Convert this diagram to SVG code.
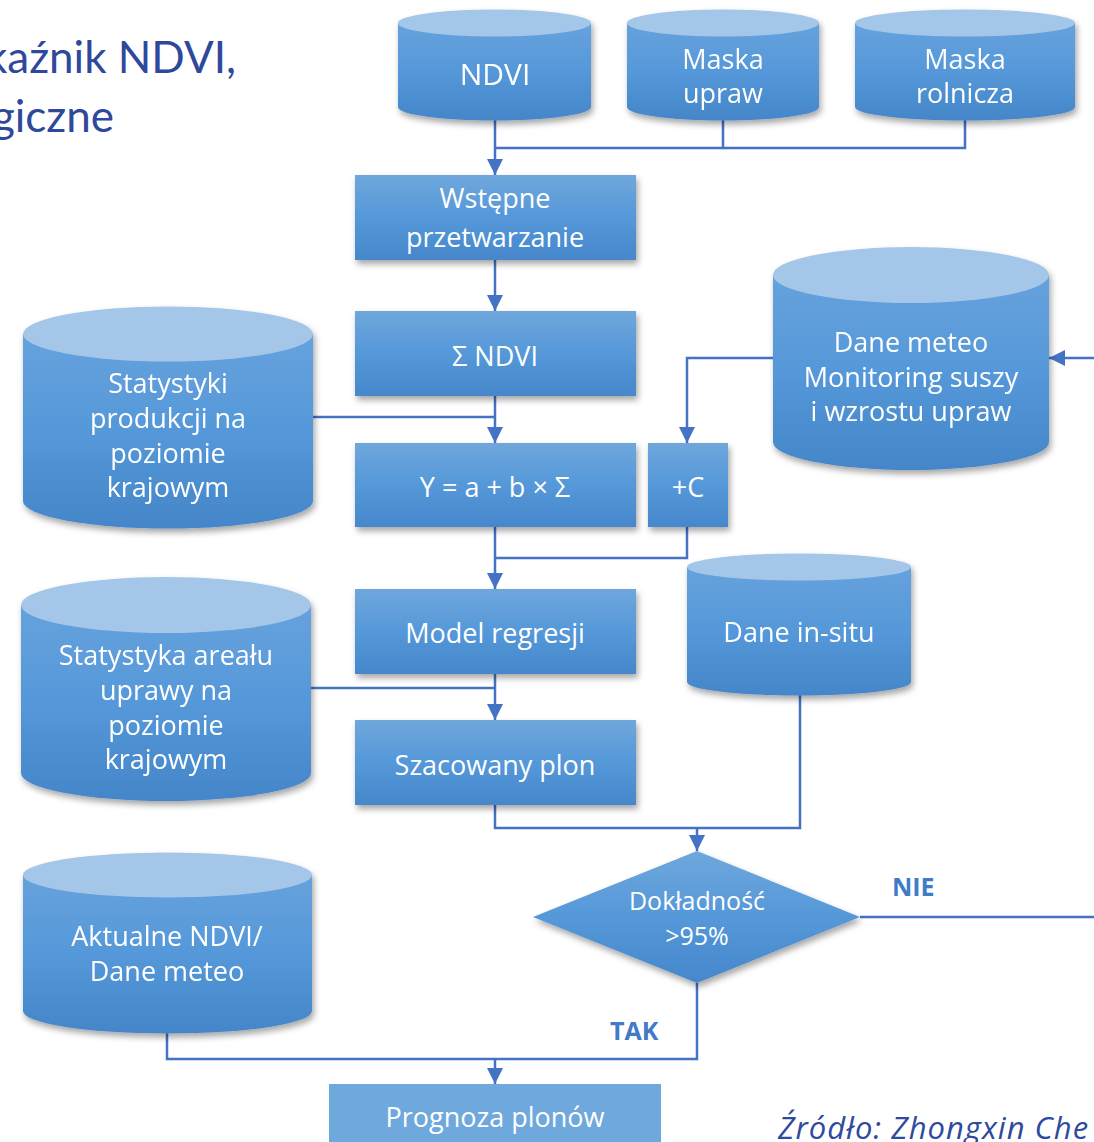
<svg xmlns="http://www.w3.org/2000/svg" width="1094" height="1142" viewBox="0 0 1094 1142">
<defs>
<linearGradient id="gBody" x1="0" y1="0" x2="0" y2="1">
<stop offset="0" stop-color="#66a2dd"/>
<stop offset="0.5" stop-color="#5598d9"/>
<stop offset="1" stop-color="#4486c9"/>
</linearGradient>
<linearGradient id="gBox" x1="0" y1="0" x2="0" y2="1">
<stop offset="0" stop-color="#6fa7dc"/>
<stop offset="0.5" stop-color="#5598d9"/>
<stop offset="1" stop-color="#4687cb"/>
</linearGradient>
<filter id="sh" x="-10%" y="-10%" width="125%" height="130%">
<feDropShadow dx="2" dy="4" stdDeviation="3" flood-color="#000" flood-opacity="0.35"/>
</filter>
<marker id="ah" viewBox="0 0 16 16" refX="16" refY="8" markerWidth="16" markerHeight="16" markerUnits="userSpaceOnUse" orient="auto">
<path d="M0,0 L16,8 L0,16 Z" fill="#4472c4"/>
</marker>
</defs>
<style>
.lbl{font-family:"Open Sans","DejaVu Sans",sans-serif;font-size:27px;fill:#ffffff;text-anchor:middle}
.box{fill:url(#gBox);filter:url(#sh)}
.body{fill:url(#gBody)}
.top{fill:#a4c6e9}
.con{fill:none;stroke:#4472c4;stroke-width:2.5}
.arr{marker-end:url(#ah)}
.title{font-family:Lato,"Open Sans",sans-serif;font-size:44px;fill:#2e489b;text-anchor:end}
.yn{font-family:"Open Sans",sans-serif;font-weight:bold;font-size:25px;fill:#3f7bc8}
</style>
<rect width="1094" height="1142" fill="#ffffff"/>
<g id="title">
<text class="title" x="236" y="73">kaźnik NDVI,</text>
<text class="title" x="114" y="132">giczne</text>
</g>
<g id="connectors">
<path class="con arr" d="M495,120 V175"/>
<path class="con" d="M723,120 V148 H495"/>
<path class="con" d="M965,120 V148 H723"/>
<path class="con arr" d="M495,260 V311"/>
<path class="con arr" d="M495,396 V443"/>
<path class="con" d="M313,417 H495"/>
<path class="con arr" d="M773,358 H687 V443"/>
<path class="con arr" d="M1094,358 H1049"/>
<path class="con arr" d="M495,527 V589"/>
<path class="con" d="M687,527 V558 H495"/>
<path class="con arr" d="M495,674 V720"/>
<path class="con" d="M310,688 H495"/>
<path class="con" d="M495,805 V828 H800 V695"/>
<path class="con arr" d="M697,828 V851"/>
<path class="con" d="M860,917 H1094"/>
<path class="con" d="M697,983 V1059 H167 V1033"/>
<path class="con arr" d="M495,1059 V1084"/>
</g>
<g id="ndvi" filter="url(#sh)">
<path class="body" d="M398,23 V107 A96.5,13.5 0 0 0 591,107 V23 Z"/>
<ellipse class="top" cx="494.5" cy="23" rx="96.5" ry="13.5"/>
<text class="lbl" x="495" y="85" style="font-size:30px">NDVI</text>
</g>
<g id="maska-upraw" filter="url(#sh)">
<path class="body" d="M627,23 V107 A96,13.5 0 0 0 819,107 V23 Z"/>
<ellipse class="top" cx="723" cy="23" rx="96" ry="13.5"/>
<text class="lbl" x="723" y="69">Maska</text>
<text class="lbl" x="723" y="103">upraw</text>
</g>
<g id="maska-rolnicza" filter="url(#sh)">
<path class="body" d="M855,23 V107 A110,13.5 0 0 0 1075,107 V23 Z"/>
<ellipse class="top" cx="965" cy="23" rx="110" ry="13.5"/>
<text class="lbl" x="965" y="69">Maska</text>
<text class="lbl" x="965" y="103">rolnicza</text>
</g>
<g id="wstepne">
<rect class="box" x="355" y="175" width="281" height="85"/>
<text class="lbl" x="495" y="208">Wstępne</text>
<text class="lbl" x="495" y="247">przetwarzanie</text>
</g>
<g id="sigma-ndvi">
<rect class="box" x="355" y="311" width="281" height="85"/>
<text class="lbl" x="495" y="366">Σ NDVI</text>
</g>
<g id="dane-meteo" filter="url(#sh)">
<path class="body" d="M773,275 V442 A138,28 0 0 0 1049,442 V275 Z"/>
<ellipse class="top" cx="911" cy="275" rx="138" ry="28"/>
<text class="lbl" x="911" y="352">Dane meteo</text>
<text class="lbl" x="911" y="387">Monitoring suszy</text>
<text class="lbl" x="911" y="421">i wzrostu upraw</text>
</g>
<g id="statystyki" filter="url(#sh)">
<path class="body" d="M23,334 V501 A145,27.5 0 0 0 313,501 V334 Z"/>
<ellipse class="top" cx="168" cy="334" rx="145" ry="27.5"/>
<text class="lbl" x="168" y="393">Statystyki</text>
<text class="lbl" x="168" y="428">produkcji na</text>
<text class="lbl" x="168" y="463">poziomie</text>
<text class="lbl" x="168" y="497">krajowym</text>
</g>
<g id="regresja">
<rect class="box" x="355" y="443" width="281" height="84"/>
<text class="lbl" x="495" y="497">Y = a + b × Σ</text>
</g>
<g id="plus-c">
<rect class="box" x="648" y="443" width="80" height="84"/>
<text class="lbl" x="688" y="497">+C</text>
</g>
<g id="model-regresji">
<rect class="box" x="355" y="589" width="281" height="85"/>
<text class="lbl" x="495" y="643">Model regresji</text>
</g>
<g id="dane-in-situ" filter="url(#sh)">
<path class="body" d="M687,567 V682 A112,13.5 0 0 0 911,682 V567 Z"/>
<ellipse class="top" cx="799" cy="567" rx="112" ry="13.5"/>
<text class="lbl" x="799" y="642">Dane in-situ</text>
</g>
<g id="statystyka-arealu" filter="url(#sh)">
<path class="body" d="M21,605 V773 A145,28 0 0 0 311,773 V605 Z"/>
<ellipse class="top" cx="166" cy="605" rx="145" ry="28"/>
<text class="lbl" x="166" y="665">Statystyka areału</text>
<text class="lbl" x="166" y="700">uprawy na</text>
<text class="lbl" x="166" y="735">poziomie</text>
<text class="lbl" x="166" y="769">krajowym</text>
</g>
<g id="szacowany-plon">
<rect class="box" x="355" y="720" width="281" height="85"/>
<text class="lbl" x="495" y="775">Szacowany plon</text>
</g>
<g id="dokladnosc">
<path class="box" d="M697,851 L860,917 L697,983 L533,917 Z"/>
<text class="lbl" x="697" y="910" style="font-size:25px">Dokładność</text>
<text class="lbl" x="697" y="945" style="font-size:25px">&gt;95%</text>
</g>
<g id="aktualne" filter="url(#sh)">
<path class="body" d="M23,875 V1011 A144.5,22.5 0 0 0 312,1011 V875 Z"/>
<ellipse class="top" cx="167.5" cy="875" rx="144.5" ry="22.5"/>
<text class="lbl" x="167" y="946">Aktualne NDVI/</text>
<text class="lbl" x="167" y="981">Dane meteo</text>
</g>
<g id="prognoza">
<rect x="329" y="1084" width="332" height="70" fill="#6fa8dc"/>
<text class="lbl" x="495" y="1127">Prognoza plonów</text>
</g>
<g id="labels">
<text class="yn" x="892" y="896">NIE</text>
<text class="yn" x="610" y="1040">TAK</text>
<text x="778" y="1139" style="font-family:'Open Sans',sans-serif;font-style:italic;font-size:31px;letter-spacing:1px;fill:#2e4a9e">Źródło: Zhongxin Che</text>
</g>
</svg>
